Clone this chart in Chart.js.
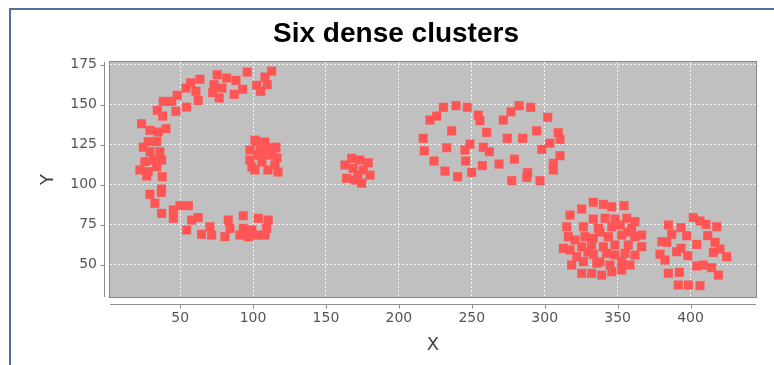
<!DOCTYPE html>
<html>
<head>
<meta charset="utf-8">
<script src="https://cdn.jsdelivr.net/npm/chart.js@4/dist/chart.umd.min.js"></script>
<style>
  html, body { margin: 0; padding: 0; background: #fff; overflow: hidden; }
  #wrap { position: relative; width: 774px; height: 365px; }
  #frame { position: absolute; left: 9px; top: 8px; width: 800px; height: 400px;
           border-left: 2px solid #4f6f9f; border-top: 2px solid #4f6f9f; }
  #chart { position: absolute; left: 0; top: 0; }
</style>
</head>
<body>
<div id="wrap">
  <div id="frame"></div>
  <canvas id="chart" width="774" height="365"></canvas>
</div>
<script>
// Axis ticks
const xTicks = [50, 100, 150, 200, 250, 300, 350, 400];
const yTicks = [50, 75, 100, 125, 150, 175];

// "C" shaped arc (top, left side, bottom)
const arcX = [96.0, 112.8, 108.2, 102.5, 109.7, 105.2,
  75.4, 81.9, 88.3, 73.2, 72.3, 76.8, 87.1, 92.9, 78.7,
  57.2, 63.6, 60.8, 54.0, 62.4, 54.5, 48.0, 44.2, 38.4, 34.3, 38.0, 47.1,
  23.6, 29.3, 35.0, 40.3, 28.1, 33.9, 24.7, 29.3, 36.1, 25.8, 31.5, 37.3,
  22.4, 28.1, 33.9, 27.1, 37.7, 37.3, 29.3, 37.1, 32.7, 37.3,
  45.3, 49.9, 55.6, 45.3, 57.9, 62.4, 54.5, 64.7, 70.4, 71.6, 80.7, 83.0,
  84.2, 93.3, 91.0, 96.7, 102.5, 108.2, 103.6, 110.4, 93.3, 109.3, 99.2];
const arcY = [170.3, 170.9, 167.2, 162.0, 162.4, 158.3,
  168.6, 166.6, 165.1, 162.4, 157.4, 154.1, 156.4, 159.5, 160.3,
  163.6, 165.8, 158.3, 160.3, 152.6, 148.4, 155.8, 152.0, 152.0, 146.4, 142.8, 145.8,
  138.0, 133.9, 132.8, 134.9, 126.8, 126.8, 123.3, 120.5, 120.5, 114.3, 115.3, 115.3,
  109.1, 108.0, 111.1, 105.3, 104.9, 97.2, 93.9, 95.1, 88.3, 82.0,
  84.1, 86.8, 86.8, 78.9, 77.8, 79.3, 71.6, 68.9, 73.6, 68.4, 67.4, 77.8,
  72.6, 80.5, 68.4, 67.4, 68.4, 68.4, 78.9, 77.8, 72.6, 72.6, 71.6];

// Dense blob inside the arc
const innerX = [101.3, 108.2, 115.0, 97.9, 104.7, 113.0, 97.9, 106.1, 115.0, 101.3, 110.2, 117.1, 103.4, 110.2,
  102.0, 115.7, 116.4, 99.2, 106.8];
const innerY = [127.8, 126.6, 122.8, 121.6, 121.6, 118.4, 115.3, 114.1, 112.2, 109.1, 109.1, 107.8, 118.4, 122.8,
  127.2, 123.4, 116.6, 110.9, 118.4];

// Small blob near x = 170
const smallX = [167.6, 173.3, 179.0, 163.0, 168.7, 175.6, 180.2, 164.2, 169.9, 174.5, 171.9];
const smallY = [116.4, 115.3, 113.6, 112.2, 110.1, 109.1, 105.9, 103.9, 102.8, 100.8, 105.9];

// Two touching rings
const ringsX = [230.5, 239.2, 246.9, 225.9, 221.3, 254.5, 255.6, 236.2, 260.2, 216.7, 248.8,
  245.3, 232.8, 257.9, 262.0, 217.4, 224.1, 245.8, 257.2, 231.6, 240.3, 249.9,
  282.4, 290.4, 276.9, 271.6, 302.1, 294.5, 309.3, 274.3, 284.9, 310.5, 303.6,
  298.0, 268.7, 279.2, 310.5, 305.9, 305.9, 288.3, 287.7, 277.4, 296.8];
const ringsY = [148.3, 149.3, 148.3, 142.8, 140.3, 143.4, 139.9, 133.6, 132.6, 128.9, 125.3,
  121.6, 123.0, 123.3, 120.5, 121.1, 114.7, 114.7, 111.8, 108.4, 104.9, 107.6,
  149.3, 148.3, 145.5, 140.3, 142.0, 133.6, 132.4, 128.9, 128.9, 128.3, 125.8,
  122.0, 112.8, 115.9, 118.0, 113.3, 109.1, 107.4, 104.5, 102.4, 102.4];

// Large lower cluster around x = 340
const lowerAX = [333.3, 340.2, 346.0, 354.4, 325.4, 317.4, 333.3, 341.4, 348.2, 356.3, 361.9,
  315.1, 326.5, 336.8, 346.0, 351.7, 359.7, 316.2, 327.6, 333.3, 343.6, 352.8, 361.9, 366.5,
  312.8, 325.4, 332.2, 340.2, 348.2, 357.3, 366.5, 333.3, 342.5, 322.0, 355.1, 361.9,
  318.5, 326.5, 335.7, 344.8, 352.8, 358.5, 325.4, 332.2, 339.1, 346.0, 352.8,
  337.9, 348.2, 329.7, 357.1, 320.8, 337.9, 317.4];
const lowerAY = [88.9, 87.6, 86.1, 86.8, 84.7, 80.9, 78.4, 78.9, 78.4, 78.9, 76.8,
  73.6, 73.6, 72.6, 73.6, 74.7, 72.6, 67.4, 67.4, 66.4, 67.4, 68.4, 67.4, 68.4,
  60.1, 61.1, 62.2, 61.1, 62.2, 62.2, 61.1, 56.4, 57.0, 54.9, 57.0, 55.9,
  49.7, 51.8, 50.8, 49.7, 51.8, 49.7, 44.5, 44.5, 43.4, 45.5, 46.6,
  70.3, 56.0, 57.8, 70.3, 65.3, 51.6, 59.1];

// Lower cluster around x = 400
const lowerBX = [401.9, 406.5, 410.6, 418.0, 384.8, 393.5, 397.4, 387.1, 411.8, 380.3,
  383.7, 404.3, 416.8, 393.5, 390.5, 420.2, 415.7, 379.1, 382.5, 398.1,
  424.8, 404.3, 408.8, 414.5, 419.1, 384.8, 392.3, 391.6, 398.5, 406.5];
const lowerBY = [79.3, 77.2, 75.1, 73.6, 74.7, 73.0, 68.0, 68.9, 68.0, 64.3,
  63.9, 62.6, 63.9, 60.1, 58.0, 59.7, 57.6, 56.4, 52.8, 55.5,
  54.9, 49.1, 49.7, 48.0, 43.4, 44.5, 45.1, 37.2, 37.2, 36.8];

const groupsX = [arcX, innerX, smallX, ringsX, lowerAX, lowerBX];
const groupsY = [arcY, innerY, smallY, ringsY, lowerAY, lowerBY];
const points = [];
groupsX.forEach((gx, g) => gx.forEach((v, i) => points.push({ x: v, y: groupsY[g][i] })));

// Gray plot background, plot outline and axis lines set apart from the plot
const plotFrame = {
  id: 'plotFrame',
  beforeDraw(chart) {
    const { ctx, chartArea: a } = chart;
    ctx.save();
    ctx.fillStyle = '#c0c0c0';
    ctx.fillRect(a.left, a.top, a.right - a.left, a.bottom - a.top);
    ctx.restore();
  },
  afterDraw(chart) {
    const { ctx, chartArea: a, scales } = chart;
    ctx.save();
    ctx.lineWidth = 1;
    ctx.strokeStyle = '#888888';
    ctx.strokeRect(a.left - 0.5, a.top - 0.5, a.right - a.left + 1, a.bottom - a.top + 1);
    const ax = a.left - 6 + 0.5;
    const ay = a.bottom + 7 + 0.5;
    ctx.strokeStyle = '#8c8c8c';
    ctx.beginPath();
    ctx.moveTo(ax, a.top); ctx.lineTo(ax, a.bottom);
    ctx.moveTo(a.left, ay); ctx.lineTo(a.right, ay);
    yTicks.forEach(v => {
      const p = Math.round(scales.y.getPixelForValue(v)) + 0.5;
      ctx.moveTo(ax - 4, p); ctx.lineTo(ax, p);
    });
    xTicks.forEach(v => {
      const p = Math.round(scales.x.getPixelForValue(v)) + 0.5;
      ctx.moveTo(p, ay); ctx.lineTo(p, ay + 4);
    });
    ctx.stroke();
    ctx.restore();
  }
};

const tickFont = { family: 'DejaVu Sans', size: 14 };
const gridOpts = { color: 'rgba(255,255,255,0.85)', lineWidth: 1, drawTicks: false };

new Chart(document.getElementById('chart'), {
  type: 'scatter',
  data: {
    datasets: [{
      label: 'Clusters',
      data: points,
      pointStyle: 'rect',
      pointRadius: 6.4,
      pointHoverRadius: 6.4,
      backgroundColor: '#ff5555',
      borderWidth: 0
    }]
  },
  options: {
    responsive: false,
    animation: false,
    devicePixelRatio: 1,
    layout: { padding: { left: 36, right: 18, top: 0, bottom: 0 } },
    plugins: {
      legend: { display: false },
      tooltip: { enabled: false },
      title: {
        display: true,
        text: 'Six dense clusters',
        color: '#000',
        font: { family: 'Liberation Sans', size: 28, weight: 'bold' },
        padding: { top: 17, bottom: 11.4 }
      }
    },
    scales: {
      x: {
        type: 'linear',
        min: 1.9,
        max: 444.9,
        afterBuildTicks: s => { s.ticks = xTicks.map(v => ({ value: v })); },
        afterFit: s => { s.height = 68; },
        grid: Object.assign({ borderDash: [2, 2] }, gridOpts),
        border: { display: false, dash: [2, 2] },
        ticks: { font: tickFont, color: '#555', padding: 13, maxRotation: 0 },
        title: { display: true, text: 'X', color: '#444',
                 font: { family: 'DejaVu Sans', size: 18 }, padding: { top: 0, bottom: 9 } }
      },
      y: {
        type: 'linear',
        min: 29.7,
        max: 176.6,
        afterBuildTicks: s => { s.ticks = yTicks.map(v => ({ value: v })); },
        afterFit: s => { s.width = 74; },
        grid: gridOpts,
        border: { display: false, dash: [2, 2] },
        ticks: { font: tickFont, color: '#555', padding: 13 },
        title: { display: true, text: 'Y', color: '#444',
                 font: { family: 'DejaVu Sans', size: 18 }, padding: { top: 1.5, bottom: 0 } }
      }
    }
  },
  plugins: [plotFrame]
});
</script>
</body>
</html>
